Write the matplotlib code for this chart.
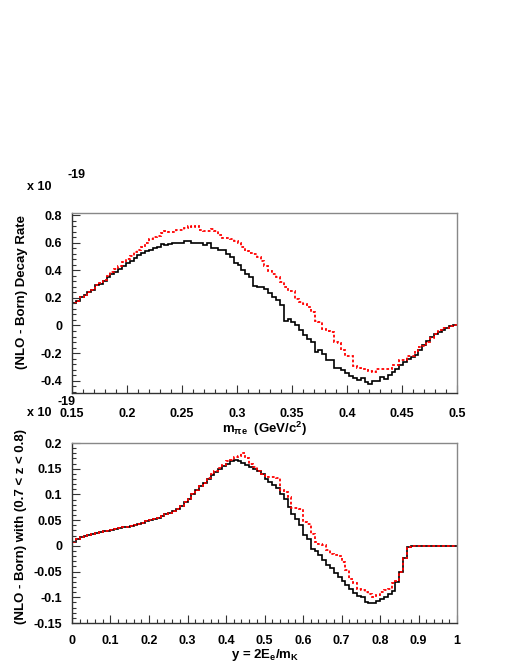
import numpy as np
import matplotlib
matplotlib.use("Agg")
import matplotlib.pyplot as plt
from matplotlib.ticker import MultipleLocator, FuncFormatter

plt.rcParams['font.family'] = ['Liberation Sans', 'DejaVu Sans']
plt.rcParams['font.weight'] = 'bold'
plt.rcParams['mathtext.fontset'] = 'custom'
plt.rcParams['mathtext.rm'] = 'Liberation Sans:bold'
plt.rcParams['mathtext.it'] = 'Liberation Sans:bold'
plt.rcParams['mathtext.default'] = 'rm'

# top panel: m_pi_e spectrum, 100 bins from 0.15 to 0.5 (units of 1e-19)
m_lo, m_hi, m_nbins = 0.15, 0.5, 100
top_black = [
    0.16, 0.18, 0.205, 0.22, 0.24, 0.26, 0.29, 0.30, 0.32, 0.35,
    0.37, 0.39, 0.41, 0.43, 0.45, 0.47, 0.49, 0.51, 0.525, 0.537,
    0.55, 0.56, 0.57, 0.59, 0.58, 0.59, 0.595, 0.595, 0.60, 0.61,
    0.615, 0.60, 0.598, 0.598, 0.58, 0.60, 0.56, 0.56, 0.547, 0.547,
    0.518, 0.494, 0.453, 0.439, 0.403, 0.374, 0.35, 0.289, 0.277, 0.277,
    0.265, 0.236, 0.205, 0.181, 0.145, 0.036, 0.048, 0.024, 0.0, -0.036,
    -0.072, -0.096, -0.12, -0.193, -0.176, -0.205, -0.248, -0.248, -0.306, -0.306,
    -0.325, -0.345, -0.366, -0.38, -0.398, -0.38, -0.41, -0.427, -0.40, -0.405,
    -0.373, -0.39, -0.362, -0.337, -0.313, -0.289, -0.265, -0.241, -0.229, -0.217,
    -0.181, -0.145, -0.113, -0.084, -0.06, -0.048, -0.036, -0.02, -0.005, 0.0]
top_red = [
    0.16, 0.18, 0.205, 0.22, 0.24, 0.26, 0.29, 0.305, 0.33, 0.36,
    0.39, 0.41, 0.43, 0.46, 0.48, 0.50, 0.53, 0.55, 0.57, 0.60,
    0.625, 0.64, 0.65, 0.67, 0.685, 0.68, 0.675, 0.69, 0.695, 0.705,
    0.72, 0.715, 0.718, 0.694, 0.682, 0.682, 0.70, 0.687, 0.655, 0.634,
    0.634, 0.627, 0.61, 0.595, 0.566, 0.537, 0.525, 0.518, 0.494, 0.47,
    0.434, 0.398, 0.374, 0.35, 0.314, 0.277, 0.253, 0.25, 0.193, 0.169,
    0.157, 0.133, 0.096, 0.036, 0.024, -0.024, -0.04, -0.05, -0.12, -0.13,
    -0.18, -0.224, -0.224, -0.296, -0.306, -0.313, -0.318, -0.333, -0.337, -0.313,
    -0.318, -0.318, -0.313, -0.289, -0.285, -0.253, -0.25, -0.224, -0.22, -0.188,
    -0.157, -0.15, -0.12, -0.09, -0.06, -0.036, -0.02, -0.018, -0.005, 0.0]

# bottom panel: y = 2E_e/m_K, 100 bins from 0 to 1, cut 0.7 < z < 0.8
y_lo, y_hi, y_nbins = 0.0, 1.0, 100
bot_black = [
    0.008, 0.014, 0.017, 0.019, 0.021, 0.023, 0.025, 0.026, 0.028, 0.029,
    0.031, 0.033, 0.034, 0.036, 0.037, 0.039, 0.041, 0.043, 0.045, 0.048,
    0.050, 0.052, 0.055, 0.058, 0.061, 0.064, 0.068, 0.072, 0.078, 0.085,
    0.092, 0.100, 0.108, 0.116, 0.123, 0.130, 0.137, 0.144, 0.150, 0.155,
    0.160, 0.165, 0.167, 0.165, 0.161, 0.158, 0.154, 0.150, 0.145, 0.140,
    0.130, 0.124, 0.118, 0.112, 0.100, 0.091, 0.075, 0.062, 0.053, 0.040,
    0.021, 0.014, -0.006, -0.010, -0.018, -0.028, -0.037, -0.044, -0.053, -0.060,
    -0.069, -0.076, -0.083, -0.091, -0.097, -0.100, -0.110, -0.112, -0.111, -0.107,
    -0.103, -0.099, -0.093, -0.088, -0.070, -0.051, -0.024, -0.002, 0.0, 0.0,
    0.0, 0.0, 0.0, 0.0, 0.0, 0.0, 0.0, 0.0, 0.0, 0.0]
bot_red = [
    0.008, 0.014, 0.017, 0.019, 0.021, 0.023, 0.025, 0.026, 0.028, 0.029,
    0.031, 0.033, 0.034, 0.036, 0.037, 0.039, 0.041, 0.043, 0.045, 0.048,
    0.050, 0.052, 0.055, 0.058, 0.061, 0.064, 0.068, 0.072, 0.078, 0.085,
    0.092, 0.100, 0.108, 0.116, 0.123, 0.131, 0.139, 0.146, 0.152, 0.158,
    0.165, 0.167, 0.173, 0.175, 0.181, 0.170, 0.160, 0.154, 0.146, 0.140,
    0.136, 0.133, 0.133, 0.132, 0.108, 0.104, 0.095, 0.074, 0.073, 0.072,
    0.047, 0.043, 0.024, 0.008, 0.003, 0.001, -0.008, -0.015, -0.018, -0.020,
    -0.031, -0.047, -0.064, -0.073, -0.083, -0.086, -0.089, -0.093, -0.099, -0.095,
    -0.090, -0.086, -0.083, -0.073, -0.069, -0.051, -0.024, -0.002, 0.0, 0.0,
    0.0, 0.0, 0.0, 0.0, 0.0, 0.0, 0.0, 0.0, 0.0, 0.0]

W, H = 519, 671
fig = plt.figure(figsize=(W / 100, H / 100), dpi=100)

def px_axes(l, t, r, b):
    return fig.add_axes([l / W, 1 - b / H, (r - l) / W, (b - t) / H])

def style(ax, xmaj, xmin, ymaj, ymin, xpad):
    ax.xaxis.set_major_locator(MultipleLocator(xmaj))
    ax.xaxis.set_minor_locator(MultipleLocator(xmin))
    ax.yaxis.set_major_locator(MultipleLocator(ymaj))
    ax.yaxis.set_minor_locator(MultipleLocator(ymin))
    fmt = FuncFormatter(lambda v, p: '%g' % round(v, 6))
    ax.xaxis.set_major_formatter(fmt)
    ax.yaxis.set_major_formatter(fmt)
    ax.tick_params(which='both', direction='in', top=False, right=False, colors='#333333')
    ax.tick_params(which='major', length=6, width=0.8, labelsize=9, labelcolor='black')
    ax.tick_params(which='minor', length=3, width=0.8)
    ax.tick_params(axis='x', pad=xpad)
    ax.tick_params(axis='y', pad=7)
    for s in ['top', 'right']:
        ax.spines[s].set_color('#888888')
    for s in ['left', 'bottom']:
        ax.spines[s].set_color('#333333')
    for s in ax.spines.values():
        s.set_linewidth(1.0)
    for lab in ax.get_xticklabels() + ax.get_yticklabels():
        lab.set_fontweight('bold')

# top panel
ax1 = px_axes(72, 213, 457, 393)
edges1 = np.linspace(m_lo, m_hi, m_nbins + 1)
ax1.stairs(top_black, edges1, color='black', lw=1.2)
ax1.stairs(top_red, edges1, color='red', lw=1.3, linestyle=(0, (1.5, 1.2)))
ax1.set_xlim(m_lo, m_hi)
ax1.set_ylim(-0.489, 0.8145)
style(ax1, 0.05, 0.01, 0.2, 0.04, 11)

# bottom panel
ax2 = px_axes(72, 443, 457, 623)
edges2 = np.linspace(y_lo, y_hi, y_nbins + 1)
ax2.stairs(bot_black, edges2, color='black', lw=1.2)
ax2.stairs(bot_red, edges2, color='red', lw=1.3, linestyle=(0, (1.5, 1.2)))
ax2.set_xlim(y_lo, y_hi)
ax2.set_ylim(-0.15, 0.2)
style(ax2, 0.1, 0.02, 0.05, 0.01, 9)

# axis titles and exponents
fig.text(265 / W, 1 - 429 / H, r'm$_{\pi e}$  (GeV/c$^{2}$)', ha='center', va='center',
         fontsize=9.5, fontweight='bold')
fig.text(265 / W, 1 - 655 / H, r'y = 2E$_{e}$/m$_{K}$', ha='center', va='center',
         fontsize=9.5, fontweight='bold')
fig.text(22 / W, 1 - 292 / H, '(NLO - Born) Decay Rate', rotation=90, ha='center',
         va='center', fontsize=9.5, fontweight='bold')
fig.text(21 / W, 1 - 527 / H, '(NLO - Born) with (0.7 < z < 0.8)', rotation=90,
         ha='center', va='center', fontsize=9.5, fontweight='bold')

for ybase, ysup, xsup in [(187, 175, 67), (413, 402, 58)]:
    fig.text(27 / W, 1 - ybase / H, 'x 10', ha='left', va='center', fontsize=9,
             fontweight='bold')
    fig.text(xsup / W, 1 - ysup / H, '-19', ha='left', va='center', fontsize=9,
             fontweight='bold')

fig.savefig('out.png', dpi=100)
